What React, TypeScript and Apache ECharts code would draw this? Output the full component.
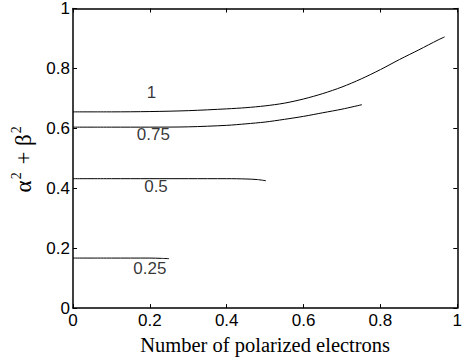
import React, { useEffect, useRef } from "react";
import * as echarts from "echarts";

const x1 = [0, 0.1, 0.2, 0.3, 0.4, 0.45, 0.5, 0.55, 0.6, 0.65, 0.7, 0.75, 0.8, 0.85, 0.9, 0.95, 0.967];
const y1 = [0.655, 0.655, 0.656, 0.659, 0.665, 0.669, 0.675, 0.684, 0.698, 0.716, 0.738, 0.765, 0.796, 0.83, 0.862, 0.895, 0.905];
const x075 = [0, 0.1, 0.2, 0.3, 0.4, 0.45, 0.5, 0.55, 0.6, 0.65, 0.7, 0.752];
const y075 = [0.604, 0.604, 0.604, 0.605, 0.61, 0.615, 0.621, 0.63, 0.64, 0.652, 0.664, 0.679];
const x05 = [0, 0.1, 0.2, 0.3, 0.4, 0.45, 0.48, 0.502];
const y05 = [0.432, 0.432, 0.432, 0.432, 0.432, 0.431, 0.429, 0.425];
const x025 = [0, 0.1, 0.2, 0.23, 0.25];
const y025 = [0.167, 0.167, 0.167, 0.166, 0.165];

const labelTexts = ["1", "0.75", "0.5", "0.25"];
const labelX = [0.204, 0.209, 0.216, 0.2];
const labelY = [0.72, 0.579, 0.405, 0.133];

const zip = (xs: number[], ys: number[]) => xs.map((x, i) => [x, ys[i]]);

export default function App() {
  const ref = useRef<HTMLDivElement>(null);
  useEffect(() => {
    document.body.style.margin = "0";
    const chart = echarts.init(ref.current!, null, { renderer: "svg" });
    const tickFont = { fontFamily: "Liberation Sans, Arial, sans-serif", fontSize: 17, color: "#000" };
    const serif = "Liberation Serif, Times New Roman, serif";
    const axisBase = {
      type: "value" as const,
      min: 0,
      max: 1,
      interval: 0.2,
      axisLine: { show: true, onZero: false, lineStyle: { color: "#000", width: 1.5 } },
      axisTick: { show: true, inside: true, length: 4, lineStyle: { color: "#000", width: 1 } },
      splitLine: { show: false },
    };
    const lineSeries = (xs: number[], ys: number[]) => ({
      type: "line" as const,
      data: zip(xs, ys),
      showSymbol: false,
      smooth: 0.3,
      lineStyle: { color: "#000", width: 1 },
      xAxisIndex: 0,
      yAxisIndex: 0,
    });
    chart.setOption({
      animation: false,
      backgroundColor: "#fff",
      grid: { left: 73, top: 6, right: 5, bottom: 49 },
      xAxis: [
        {
          ...axisBase,
          position: "bottom",
          axisLabel: { ...tickFont, margin: 4, formatter: (v: number) => String(+v.toFixed(1)) },
          name: "Number of polarized electrons",
          nameLocation: "middle",
          nameGap: 17,
          nameTextStyle: { fontFamily: serif, fontSize: 20.5, color: "#000" },
        },
        { ...axisBase, position: "top", axisLabel: { show: false } },
      ],
      yAxis: [
        {
          ...axisBase,
          position: "left",
          axisLabel: { ...tickFont, margin: 3, formatter: (v: number) => String(+v.toFixed(1)) },
          name: "{b|α}{s|2}{b| + β}{s|2}",
          nameLocation: "middle",
          nameGap: 27,
          nameRotate: 90,
          nameTextStyle: {
            fontFamily: serif,
            fontSize: 22,
            color: "#000",
            rich: {
              b: { fontFamily: serif, fontSize: 23, color: "#000", lineHeight: 26, verticalAlign: "bottom" },
              s: { fontFamily: serif, fontSize: 14, color: "#000", lineHeight: 26, verticalAlign: "top", padding: [0, 2, 0, 1] },
            },
          },
        },
        { ...axisBase, position: "right", axisLabel: { show: false } },
      ],
      series: [
        lineSeries(x1, y1),
        lineSeries(x075, y075),
        lineSeries(x05, y05),
        lineSeries(x025, y025),
        {
          type: "scatter",
          symbolSize: 0,
          data: labelTexts.map((t, i) => ({ value: [labelX[i], labelY[i]], name: t })),
          label: {
            show: true,
            position: "inside",
            formatter: (p: any) => p.name,
            ...tickFont,
            textBorderWidth: 0,
          },
        },
      ],
    });
    return () => chart.dispose();
  }, []);
  return <div ref={ref} style={{ width: 465, height: 360 }} />;
}
